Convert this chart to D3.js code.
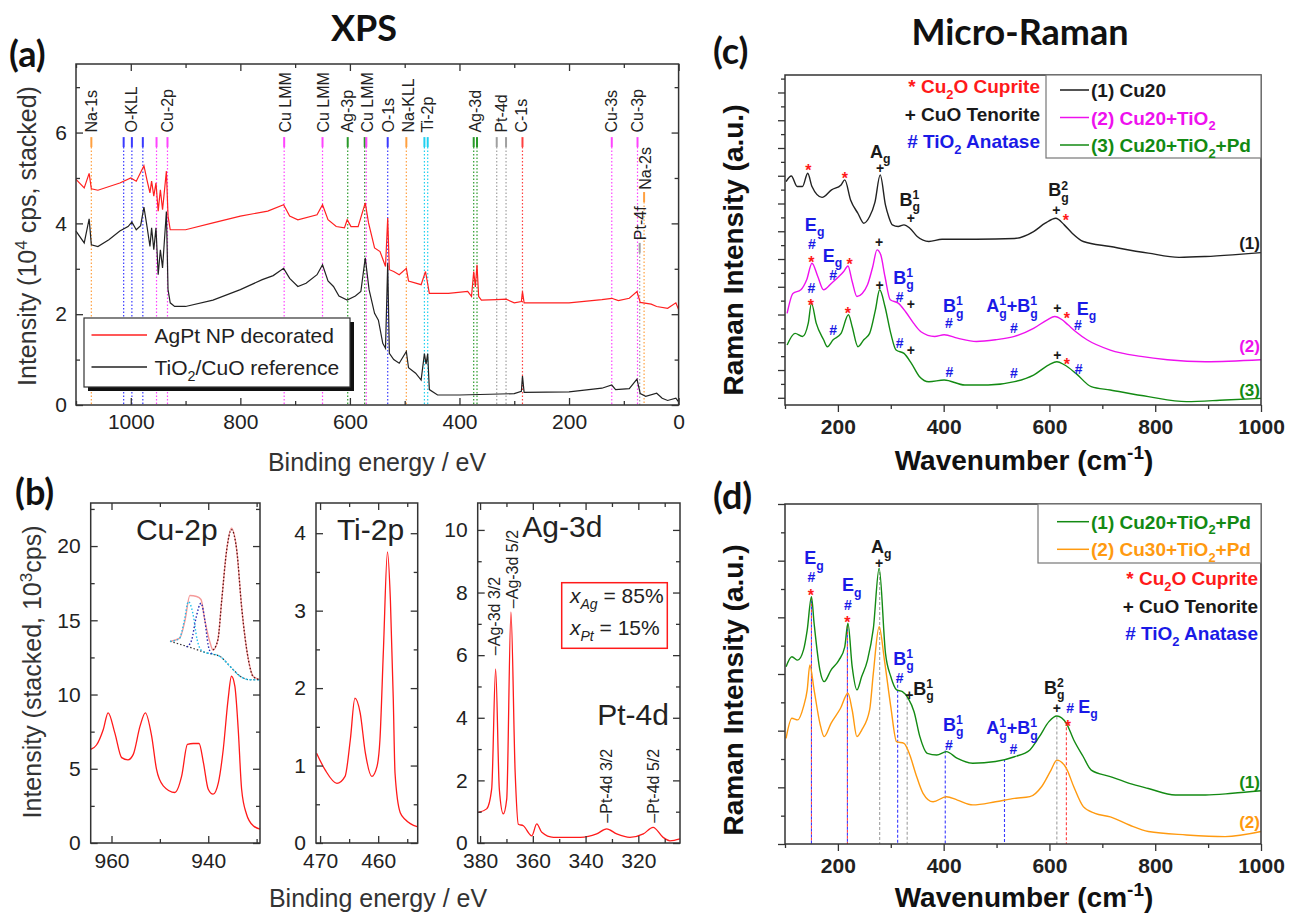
<!DOCTYPE html>
<html>
<head>
<meta charset="utf-8">
<script src="https://cdn.jsdelivr.net/npm/d3@7/dist/d3.min.js"></script>
<style>
  body { margin: 0; background: #fff; }
  text { font-family: "Liberation Sans", Arial, sans-serif; white-space: pre; }
</style>
</head>
<body>
<script>

// ---------- (a) XPS survey: [binding energy eV, intensity 10^4 cps] ----------
var xpsAgPt = [[1100,4.97],[1085,4.78],[1076,5.1],[1072,4.76],[1060,4.73],[1020,4.89],[1000,5.0],[990,4.93],[976,5.27],
  [970,4.93],[965,4.67],[962,4.93],[958,4.6],[954,4.89],[950,4.27],[946,4.74],[942,4.3],[935,5.15],[932,4.16],[928,3.86],
  [900,3.86],[850,4.01],[800,4.16],[750,4.27],[721,4.41],[710,4.16],[695,4.08],[660,4.19],[650,4.41],[640,4.08],[625,3.93],
  [610,3.9],[605,4.08],[598,3.93],[585,3.93],[572,4.45],[566,4.01],[555,3.46],[545,3.38],[535,3.05],[531,4.12],[528,2.98],
  [520,2.94],[510,2.87],[497,3.01],[493,2.73],[470,2.65],[462,2.94],[455,2.46],[420,2.46],[385,2.5],[378,2.39],[374,2.94],
  [371,2.6],[368,3.09],[365,2.39],[360,2.31],[332,2.32],[315,2.33],[300,2.25],[287,2.28],[285,2.5],[282,2.25],[200,2.25],
  [140,2.32],[122,2.35],[110,2.3],[90,2.35],[76,2.5],[70,2.26],[50,2.22],[40,2.17],[20,2.13],[5,2.25],[0,2.1]];
var xpsRef = [[1100,3.83],[1085,3.57],[1076,4.1],[1072,3.53],[1060,3.49],[1040,3.64],[1020,3.83],[1005,3.93],[998,4.03],
  [990,3.86],[982,3.95],[976,4.36],[970,3.9],[965,3.49],[962,3.9],[958,3.42],[954,3.9],[950,2.87],[946,3.42],[942,3.02],
  [935,4.26],[932,2.54],[928,2.25],[920,2.17],[900,2.17],[850,2.31],[800,2.54],[760,2.76],[740,2.85],[721,3.01],[710,2.79],
  [695,2.61],[680,2.68],[660,2.87],[650,3.09],[640,2.73],[630,2.61],[620,2.4],[605,2.31],[590,2.4],[580,2.5],[572,3.24],
  [565,2.54],[555,2.02],[548,1.87],[540,1.36],[535,1.25],[531,3.12],[528,1.14],[520,1.0],[510,0.92],[497,1.18],[493,0.82],
  [480,0.7],[470,0.55],[464,1.13],[461,0.9],[458,1.13],[455,0.34],[440,0.22],[400,0.22],[300,0.25],[287,0.3],[285,0.64],
  [282,0.28],[200,0.29],[140,0.37],[122,0.44],[115,0.34],[90,0.36],[76,0.57],[70,0.25],[60,0.19],[40,0.26],[30,0.15],
  [20,0.1],[5,0.15],[0,0.07]];
// reference lines: [eV, colour, top of line]
var xpsLines = [[1072,"o",5.9],[1013,"b",5.9],[998,"b",5.9],[978,"b",5.9],[953,"m",5.9],[933,"m",5.9],[720,"m",5.9],
  [650,"m",5.9],[604,"g",5.9],[573,"g",5.9],[570,"m",5.9],[531,"b",5.9],[497,"o",5.9],[464,"c",5.9],[458,"c",5.9],
  [374,"g",5.9],[368,"g",5.9],[332,"k",5.9],[315,"k",5.9],[285,"r",5.9],[122,"m",5.9],[75,"m",5.9],[71,"k",3.57],[63,"o",4.69]];
// peak labels: [text, eV, start]
var xpsLabels = [["Na-1s",1072,6.0],["O-KLL",998,6.0],["Cu-2p",933,6.0],["Cu LMM",718,6.0],["Cu LMM",648,6.0],
  ["Ag-3p",604,6.0],["Cu LMM",569,6.0],["O-1s",530,6.0],["Na-KLL",494,6.0],["Ti-2p",458,6.0],["Ag-3d",371,6.0],
  ["Pt-4d",323,6.0],["C-1s",287,6.0],["Cu-3s",122,6.0],["Cu-3p",75,6.0],["Pt-4f",69,3.63],["Na-2s",61,4.74]];
var xpsXTicks = [1000,800,600,400,200,0], xpsXMinor = [1100,900,700,500,300,100];
var xpsYTicks = [0,2,4,6], xpsYMinor = [1,3,5,7];

// ---------- (b) high resolution windows ----------
var cu2p = [[964.3,6.3],[963.1,6.6],[961.7,7.65],[960.7,8.77],[959.3,7.4],[957.9,5.75],[956.6,5.6],[955.5,5.97],[954.1,7.87],
  [953,8.77],[951.7,7.2],[950.7,4.97],[949.3,3.85],[946.9,3.4],[945.5,4.5],[944.3,6.64],[943.1,6.7],[941.9,6.7],[941,5.42],
  [940,3.62],[939,3.29],[937.9,4.07],[936.9,6.3],[935.9,9.66],[935.2,11.23],[934.5,10.56],[933.8,7.65],[933.1,3.62],
  [932.1,1.95],[930.7,1.16],[929.3,0.94]];
var cu2pEnvelope = [[947.9,13.58],[945.9,13.8],[944.8,15.0],[943.8,16.67],[942.4,16.6],[941.5,16.4],[940.7,15.0],[939.6,13.47],
  [939,13.0],[938,13.7],[937.2,16.4],[936.2,19.7],[935.2,21.2],[934.1,19.7],[933.1,15.9],[931.7,12.35],[930.7,11.23],[929.3,11.0]];
var cu2pBackground = [[947.9,13.58],[944,13.2],[940.3,12.8],[937.6,12.57],[935.5,11.9],[933.4,11.23],[931.5,11.0],[929.3,11.0]];
var cu2pSat1 = [[947.9,13.58],[946,13.75],[945,14.9],[944.1,16.26],[943.2,15.5],[942.3,13.7],[941.5,13.0],[940.3,12.8]];
var cu2pSat2 = [[944.5,13.2],[943.5,13.6],[942.5,15.2],[941.5,16.15],[940.7,15.0],[940,13.3],[939.3,12.75]];
var cu2pMain = [[939,13.0],[938,13.7],[937.2,16.4],[936.2,19.7],[935.2,21.1],[934.1,19.7],[933.1,15.9],[931.7,12.35],[930.7,11.2],[929.3,11.0]];
var ti2p = [[470.6,1.16],[469.1,0.94],[467.1,0.77],[465.7,0.86],[464.8,1.33],[464,1.87],[463.1,1.68],[462.2,1.16],[461.1,0.86],
  [460.2,0.99],[459.7,1.33],[459.1,2.49],[458.4,3.76],[457.9,3.14],[457.4,1.85],[457.1,0.9],[456.2,0.39],[455.3,0.3],[453.3,0.21]];
var ag3d = [[380.6,0.98],[377.5,1.09],[375.6,1.73],[374.1,5.56],[372.7,1.72],[371.2,0.93],[369.9,1.4],[368.3,7.37],[366.7,2.26],
  [365.5,0.6],[363.6,0.55],[360.4,0.23],[358.5,0.61],[356.6,0.34],[352.2,0.18],[342,0.18],[335.8,0.29],[332,0.45],[328.2,0.29],
  [323.2,0.18],[318.1,0.29],[314.4,0.5],[310.6,0.18],[308,0.07],[304.2,0.13]];
var agLabels = [["\u2013Ag-3d 3/2",374.6,6.0],["\u2013Ag-3d 5/2",367.9,7.5],["\u2013Pt-4d 3/2",332,0.65],["\u2013Pt-4d 5/2",314.4,0.65]];

// ---------- (c) Raman: [wavenumber, intensity a.u.] ----------
var ramanCu20 = [[102,8.05],[112,8.25],[123,7.87],[133,7.87],[143,8.35],[151,7.87],[170,7.48],[188,7.75],[206,7.93],[213,8.11],
  [224,7.39],[238,6.9],[249,6.55],[260,6.79],[270,7.3],[280,8.29],[290,7.2],[296,6.79],[303,6.49],[314,6.43],[325,6.49],
  [336,6.37],[350,6.07],[372,5.89],[397,5.97],[462,5.97],[534,6.0],[570,6.25],[592,6.55],[612,6.73],[628,6.49],[643,6.19],
  [664,5.89],[715,5.71],[787,5.47],[845,5.32],[895,5.35],[946,5.41],[1000,5.49]];
var ramanCu20Ti = [[104,3.3],[115,4.02],[130,4.15],[141,4.51],[151,5.11],[162,4.63],[173,4.15],[188,4.39],[202,4.63],[211,4.81],
  [219,5.01],[227,4.45],[236,3.91],[246,4.02],[256,4.33],[266,4.99],[274,5.59],[281,5.41],[289,4.63],[299,3.79],[314,3.67],
  [328,3.36],[343,2.95],[357,2.64],[383,2.47],[401,2.53],[426,2.41],[462,2.29],[498,2.35],[534,2.47],[570,2.76],[596,3.07],
  [610,3.19],[624,3.07],[635,2.89],[650,2.64],[671,2.35],[715,1.98],[773,1.75],[823,1.63],[895,1.56],[1000,1.63]];
var ramanCu20TiPd = [[104,2.16],[119,2.58],[133,2.47],[144,2.95],[150,3.67],[159,2.95],[173,2.35],[180,2.1],[191,2.35],[206,2.58],
  [220,3.25],[227,2.82],[238,2.1],[249,2.35],[260,2.58],[271,3.43],[279,4.15],[289,3.55],[300,2.58],[310,1.98],[325,1.86],
  [339,1.5],[354,1.03],[372,0.84],[401,0.9],[440,0.72],[484,0.72],[534,0.84],[570,1.08],[599,1.45],[614,1.56],[628,1.45],
  [650,1.14],[679,0.66],[715,0.54],[787,0.3],[859,0.12],[932,0.18],[1000,0.24]];
// symbols over peaks: [wavenumber, height, text, colour]
var cMarks = [[144,8.59,"*","r"],[213,8.32,"*","r"],[280,8.53,"+","k"],[280,9.15,"A_{g}","k"],[338,6.73,"+","k"],
  [336,7.42,"B^{1}_{g}","k"],[613,7.03,"+","k"],[631,6.81,"*","r"],[617,7.75,"B^{2}_{g}","k"],
  [156,6.5,"E_{g}","b"],[151,5.8,"#","b"],[150,5.3,"*","r"],[190,5.4,"E_{g}","b"],[191,4.69,"#","b"],[222,5.2,"*","r"],
  [278,5.89,"+","k"],[324,4.6,"B^{1}_{g}","b"],[317,3.91,"#","b"],[338,3.63,"+","k"],[418,3.58,"B^{1}_{g}","b"],[410,2.95,"#","b"],
  [529,3.58,"A^{1}_{g}+B^{1}_{g}","b"],[533,2.77,"#","b"],[615,3.49,"+","k"],[633,3.25,"*","r"],[670,3.49,"E_{g}","b"],[654,2.89,"#","b"],
  [150,4.2,"#","b"],[149,3.72,"*","r"],[219,3.43,"*","r"],[191,2.71,"#","b"],[279,4.33,"+","k"],[317,2.23,"#","b"],[338,1.99,"+","k"],
  [411,1.18,"#","b"],[533,1.15,"#","b"],[615,1.81,"+","k"],[633,1.6,"*","r"],[655,1.29,"#","b"]];
var cTags = [[998,5.83,"(1)","k"],[998,2.11,"(2)","m"],[998,0.55,"(3)","g"]];
var cLegend = [["(1) Cu20","k"],["(2) Cu20+TiO_{2}","m"],["(3) Cu20+TiO_{2}+Pd","g"]];
var phaseKey = [["* Cu_{2}O Cuprite","r"],["+ CuO Tenorite","k"],["# TiO_{2} Anatase","b"]];
var ramanXTicks = [200,400,600,800,1000], ramanXMinor = [100,300,500,700,900];

// ---------- (d) Raman ----------
var ramanD1 = [[102,6.26],[113,6.61],[124,6.49],[135,6.85],[142,7.55],[150,8.73],[155,7.79],[166,6.14],[174,5.73],[187,6.14],
  [202,6.49],[213,6.96],[219,7.79],[227,6.26],[236,5.44],[245,5.91],[256,6.49],[267,7.6],[278,9.73],[290,6.73],[300,5.91],
  [311,5.44],[322,5.38],[333,5.14],[344,4.67],[355,3.79],[369,3.2],[387,3.14],[405,3.26],[426,3.02],[455,2.85],[498,2.91],
  [534,3.08],[563,3.32],[581,3.79],[599,4.32],[614,4.52],[632,4.26],[646,3.67],[664,3.08],[679,2.61],[715,2.38],[751,2.14],
  [787,1.96],[838,1.73],[895,1.73],[946,1.79],[1000,1.88]];
var ramanD2 = [[102,3.73],[113,4.44],[124,4.38],[135,4.85],[142,5.44],[147,6.32],[155,5.44],[166,4.26],[174,3.79],[187,4.26],
  [205,4.79],[219,5.32],[227,4.73],[236,3.79],[245,4.02],[260,4.73],[267,6.02],[278,7.67],[288,6.49],[300,4.85],[311,3.61],
  [325,3.55],[336,3.14],[347,2.49],[361,1.79],[380,1.49],[405,1.67],[426,1.55],[455,1.38],[498,1.49],[534,1.61],[563,1.67],
  [585,2.02],[603,2.61],[614,2.96],[632,2.67],[646,2.02],[664,1.32],[686,1.08],[715,0.96],[751,0.67],[787,0.44],[859,0.32],
  [932,0.26],[1000,0.44]];
var dMarks = [[155,10.1,"E_{g}","b"],[150,9.42,"#","b"],[149,8.9,"*","r"],[226,9.15,"E_{g}","b"],[219,8.45,"#","b"],[218,7.95,"*","r"],
  [282,10.5,"A_{g}","k"],[278,9.91,"+","k"],[324,6.55,"B^{1}_{g}","b"],[317,5.85,"#","b"],[335,5.26,"+","k"],[362,5.49,"B^{1}_{g}","k"],
  [418,4.22,"B^{1}_{g}","b"],[410,3.49,"#","b"],[529,4.1,"A^{1}_{g}+B^{1}_{g}","b"],[532,3.34,"#","b"],
  [609,5.52,"B^{2}_{g}","k"],[614,4.79,"+","k"],[639,4.79,"#","b"],[673,4.85,"E_{g}","b"],[635,4.3,"*","r"]];
var dLines = [[150,8.7,"rb"],[218,7.7,"rb"],[279,9.6,"k"],[313,5.8,"b"],[331,5.2,"k"],[403,3.3,"b"],[515,3.0,"b"],[614,4.5,"k"],[632,4.3,"r"]];
var dTags = [[998,2.2,"(1)","g"],[998,0.79,"(2)","o"]];
var dLegend = [["(1) Cu20+TiO_{2}+Pd","g"],["(2) Cu30+TiO_{2}+Pd","o"]];

var col = { r: "#ff1a1a", k: "#1a1a1a", b: "#1a1ae6", m: "#ee11ee", g: "#138a13", o: "#ff9a10", c: "#10c8f0" };
var lineCol = { r: "#ff4040", k: "#a0a0a0", b: "#3a3aff", m: "#ff44ff", g: "#2a9a2a", o: "#ffa040", c: "#20d0f0" };

var svg = d3.select("body").append("svg").attr("width", 1289).attr("height", 913);
var titleFont = "Lato, 'Open Sans', sans-serif";

// ---------- helpers ----------
function parseRich(s) {
  var re = /\^\{([^}]*)\}_\{([^}]*)\}|\^\{([^}]*)\}|_\{([^}]*)\}|[^\^_]+/g, m, out = [];
  while ((m = re.exec(s)) !== null) {
    if (m[1] !== undefined) out.push({ sup: m[1], sub: m[2] });
    else if (m[3] !== undefined) out.push({ sup: m[3] });
    else if (m[4] !== undefined) out.push({ sub: m[4] });
    else out.push({ t: m[0] });
  }
  return out;
}

// text with sub/superscripts, x/y = anchor point on baseline
function rich(str, o) {
  var g = svg.append("g");
  var t = g.append("text")
    .style("font-size", o.size + "px")
    .style("font-weight", o.bold ? "bold" : "normal")
    .attr("fill", o.color || "#222");
  var cur = 0, small = o.size * 0.68;
  parseRich(str).forEach(function(p) {
    if (p.t !== undefined) {
      var s = t.append("tspan").attr("x", cur).attr("y", 0).text(p.t);
      cur += s.node().getComputedTextLength();
    } else {
      var w = 0;
      if (p.sup !== undefined) {
        var a = t.append("tspan").attr("x", cur).attr("y", -o.size * 0.38).style("font-size", small + "px").text(p.sup);
        w = a.node().getComputedTextLength();
      }
      if (p.sub !== undefined) {
        var b = t.append("tspan").attr("x", cur).attr("y", o.size * 0.3).style("font-size", small + "px").text(p.sub);
        w = Math.max(w, b.node().getComputedTextLength());
      }
      cur += w;
    }
  });
  var shift = o.anchor === "middle" ? -cur / 2 : (o.anchor === "end" ? -cur : 0);
  g.attr("transform", "translate(" + o.x + "," + o.y + ")" + (o.rotate ? " rotate(" + o.rotate + ")" : ""));
  t.attr("transform", "translate(" + shift + ",0)");
  return g;
}

function axes(x, y, o) {
  var x0 = x.range()[0], x1 = x.range()[1], y0 = y.range()[0], y1 = y.range()[1];
  var dir = o.inward ? -1 : 1;
  function ax(gen, tv, size, tr, labels) {
    var a = svg.append("g").attr("transform", tr)
      .call(gen.tickValues(tv).tickSize(size).tickPadding(o.pad)
        .tickFormat(labels ? d3.format("d") : ""));
    a.select(".domain").remove();
    a.attr("font-size", o.fs).attr("font-family", "'Liberation Sans', Arial, sans-serif")
      .attr("font-weight", o.bold ? "bold" : null).attr("color", "#222");
    a.selectAll("line").attr("stroke-width", 1.3).attr("stroke", "#333");
  }
  ax(d3.axisBottom(x), o.xMaj, dir * 7, "translate(0," + y0 + ")", true);
  ax(d3.axisBottom(x), o.xMin, dir * 4, "translate(0," + y0 + ")", false);
  ax(d3.axisLeft(y), o.yMaj, dir * 7, "translate(" + x0 + ",0)", o.yLabels);
  ax(d3.axisLeft(y), o.yMin, dir * 4, "translate(" + x0 + ",0)", false);
  if (o.mirror) {
    ax(d3.axisTop(x), o.xMaj, -7, "translate(0," + y1 + ")", false);
    ax(d3.axisTop(x), o.xMin, -4, "translate(0," + y1 + ")", false);
    ax(d3.axisRight(y), o.yMaj, -7, "translate(" + x1 + ",0)", false);
    ax(d3.axisRight(y), o.yMin, -4, "translate(" + x1 + ",0)", false);
  }
  svg.append("rect").attr("x", x0).attr("y", y1).attr("width", x1 - x0).attr("height", y0 - y1)
    .attr("fill", "none").attr("stroke", "#333").attr("stroke-width", 1.5);
}

function curve(data, x, y, color, width, dash, smooth) {
  var line = d3.line().x(function(d) { return x(d[0]); }).y(function(d) { return y(d[1]); })
    .curve(smooth ? d3.curveMonotoneX : d3.curveLinear);
  return svg.append("path").datum(data).attr("d", line).attr("fill", "none")
    .attr("stroke", color).attr("stroke-width", width || 1.3).attr("stroke-dasharray", dash || null);
}

function bigText(str, x, y, size, anchor) {
  svg.append("text").attr("x", x).attr("y", y).attr("text-anchor", anchor || "start")
    .style("font-family", titleFont).style("font-weight", "bold").style("font-size", size + "px")
    .attr("fill", "#111").text(str);
}

function mark(m, x, y, size) {
  var sym = m[2].length === 1;
  var fs = sym ? (m[2] === "*" ? 16 : 14) : size;
  var off = m[2] === "*" ? fs * 0.6 : fs * 0.36;
  rich(m[2], { x: x(m[0]), y: y(m[1]) + off, size: fs, bold: true, color: col[m[3]], anchor: "middle" });
}

// ---------- titles ----------
bigText("XPS", 364, 41, 36, "middle");
bigText("Micro-Raman", 1020, 45, 36, "middle");
bigText("(a)", 9, 67, 36);
bigText("(b)", 15, 505, 36);
bigText("(c)", 713, 64, 36);
bigText("(d)", 713, 509, 36);

// ---------- panel (a) ----------
var ax = d3.scaleLinear().domain([1100, 0]).range([76, 678.6]);
var ay = d3.scaleLinear().domain([0, 7.51]).range([405, 64]);

xpsLines.forEach(function(l) {
  var c = lineCol[l[1]];
  svg.append("line").attr("x1", ax(l[0])).attr("x2", ax(l[0])).attr("y1", ay(l[2])).attr("y2", ay(l[2] - 0.22))
    .attr("stroke", c).attr("stroke-width", 2);
  svg.append("line").attr("x1", ax(l[0])).attr("x2", ax(l[0])).attr("y1", ay(l[2] - 0.22)).attr("y2", ay(0))
    .attr("stroke", c).attr("stroke-width", 1.2).attr("stroke-dasharray", "1.5,2");
});
xpsLabels.forEach(function(l) {
  svg.append("text").attr("transform", "translate(" + ax(l[1]) + "," + ay(l[2]) + ") rotate(-90)")
    .attr("dy", "0.35em").style("font-size", "16px").attr("fill", "#222").text(l[0]);
});

curve(xpsRef, ax, ay, "#222", 1.2);
curve(xpsAgPt, ax, ay, "#ff2020", 1.2);
axes(ax, ay, { xMaj: xpsXTicks, xMin: xpsXMinor, yMaj: xpsYTicks, yMin: xpsYMinor, inward: true, mirror: true, pad: 9, fs: 21, yLabels: true });

// legend (a)
svg.append("rect").attr("x", 88).attr("y", 322).attr("width", 266).attr("height", 69).attr("fill", "#111");
svg.append("rect").attr("x", 84).attr("y", 318).attr("width", 266).attr("height", 69).attr("fill", "#fff").attr("stroke", "#333").attr("stroke-width", 1.2);
[["AgPt NP decorated", "#ff2020", 335], ["TiO_{2}/CuO reference", "#222", 367]].forEach(function(e) {
  svg.append("line").attr("x1", 91.5).attr("x2", 147).attr("y1", e[2]).attr("y2", e[2]).attr("stroke", e[1]).attr("stroke-width", 1.5);
  rich(e[0], { x: 154.5, y: e[2] + 7.5, size: 21, color: "#222" });
});

rich("Intensity (10^{4} cps, stacked)", { x: 36, y: 236, size: 25, rotate: -90, anchor: "middle", color: "#333" });
rich("Binding energy / eV", { x: 377, y: 471, size: 25, anchor: "middle", color: "#333" });

// ---------- panel (b) ----------
var cuX = d3.scaleLinear().domain([964.3, 929.3]).range([90.7, 260]);
var cuY = d3.scaleLinear().domain([0, 22.9]).range([843, 503]);
var tiX = d3.scaleLinear().domain([470.7, 453.2]).range([316, 417.7]);
var tiY = d3.scaleLinear().domain([0, 4.39]).range([843, 503]);
var agX = d3.scaleLinear().domain([380.9, 304.2]).range([477.7, 680]);
var agY = d3.scaleLinear().domain([0, 10.86]).range([843, 503]);

curve(cu2pEnvelope, cuX, cuY, "#f59a9a", 1.4, null, true);
curve(cu2pBackground, cuX, cuY, "#333", 1.2, "1.5,2", true);
curve(cu2pBackground.slice(2), cuX, cuY, "#22c0ee", 1.4, "2,2", true);
curve(cu2pSat1, cuX, cuY, "#22c0ee", 1.4, "1.5,2", true);
curve(cu2pSat2, cuX, cuY, "#2525b0", 1.4, "1.5,2", true);
curve(cu2pMain, cuX, cuY, "#5a1010", 1.3, "1.5,2", true);
curve(cu2p, cuX, cuY, "#ff1a1a", 1.3, null, true);
curve(ti2p, tiX, tiY, "#ff1a1a", 1.3, null, true);
curve(ag3d, agX, agY, "#ff1a1a", 1.3, null, true);

axes(cuX, cuY, { xMaj: [960, 940], xMin: [950, 930], yMaj: [0, 5, 10, 15, 20], yMin: [2.5, 7.5, 12.5, 17.5, 22.5], inward: true, mirror: true, pad: 10, fs: 21, yLabels: true });
axes(tiX, tiY, { xMaj: [470, 460], xMin: [465, 455], yMaj: [0, 1, 2, 3, 4], yMin: [0.5, 1.5, 2.5, 3.5], inward: true, mirror: true, pad: 10, fs: 21, yLabels: true });
axes(agX, agY, { xMaj: [380, 360, 340, 320], xMin: [370, 350, 330, 310], yMaj: [0, 2, 4, 6, 8, 10], yMin: [1, 3, 5, 7, 9], inward: true, mirror: true, pad: 10, fs: 21, yLabels: true });

svg.append("text").attr("x", cuX(946.5)).attr("y", cuY(20.4)).attr("text-anchor", "middle").style("font-size", "30px").attr("fill", "#222").text("Cu-2p");
svg.append("text").attr("x", tiX(467.1)).attr("y", tiY(3.91)).style("font-size", "30px").attr("fill", "#222").text("Ti-2p");
svg.append("text").attr("x", agX(364)).attr("y", agY(9.78)).style("font-size", "30px").attr("fill", "#222").text("Ag-3d");
svg.append("text").attr("x", agX(335.6)).attr("y", agY(3.77)).style("font-size", "30px").attr("fill", "#222").text("Pt-4d");
agLabels.forEach(function(l) {
  svg.append("text").attr("transform", "translate(" + agX(l[1]) + "," + agY(l[2]) + ") rotate(-90)")
    .attr("dy", "0.35em").style("font-size", "16px").attr("fill", "#222").text(l[0]);
});
svg.append("rect").attr("x", 561.7).attr("y", 582.7).attr("width", 105.6).attr("height", 65.6)
  .attr("fill", "#fff").attr("stroke", "#ff1a1a").attr("stroke-width", 1.5);
[["Ag", "85%", 603], ["Pt", "15%", 635]].forEach(function(r) {
  var t = svg.append("text").attr("x", 570).attr("y", r[2]).style("font-size", "21px").attr("fill", "#222");
  t.append("tspan").style("font-style", "italic").text("x");
  t.append("tspan").style("font-style", "italic").style("font-size", "14px").attr("dy", 6).text(r[0]);
  t.append("tspan").attr("dy", -6).text(" = " + r[1]);
});

rich("Intensity (stacked, 10^{3}cps)", { x: 41, y: 672, size: 25, rotate: -90, anchor: "middle", color: "#333" });
rich("Binding energy / eV", { x: 378, y: 907, size: 25, anchor: "middle", color: "#333" });

// ---------- panel (c) ----------
var cx = d3.scaleLinear().domain([100, 1000]).range([785, 1261]);
var cy = d3.scaleLinear().domain([0, 11.89]).range([405, 75]);
curve(ramanCu20, cx, cy, "#222", 1.4, null, true);
curve(ramanCu20Ti, cx, cy, "#ee11ee", 1.4, null, true);
curve(ramanCu20TiPd, cx, cy, "#138a13", 1.4, null, true);
axes(cx, cy, { xMaj: ramanXTicks, xMin: ramanXMinor, yMaj: d3.range(0.26, 11.8, 1), yMin: d3.range(0.76, 11.8, 1), inward: false, pad: 7, fs: 21, bold: true, yLabels: false });
cMarks.forEach(function(m) { mark(m, cx, cy, 18); });
cTags.forEach(function(m) {
  rich(m[2], { x: cx(m[0]), y: cy(m[1]) + 6, size: 17, bold: true, color: col[m[3]], anchor: "end" });
});
svg.append("rect").attr("x", 1046).attr("y", 75).attr("width", 215).attr("height", 83).attr("fill", "#fff").attr("stroke", "#777").attr("stroke-width", 1.2);
cLegend.forEach(function(e, i) {
  var yy = 90 + i * 27.5;
  svg.append("line").attr("x1", 1060).attr("x2", 1089).attr("y1", yy).attr("y2", yy).attr("stroke", col[e[1]]).attr("stroke-width", 1.5);
  rich(e[0], { x: 1091, y: yy + 7, size: 19, bold: true, color: col[e[1]] });
});
phaseKey.forEach(function(e, i) {
  rich(e[0], { x: 1040, y: 93 + i * 27.5, size: 19, bold: true, color: col[e[1]], anchor: "end" });
});
rich("Raman Intensity (a.u.)", { x: 743, y: 250, size: 28, bold: true, rotate: -90, anchor: "middle", color: "#111" });
rich("Wavenumber (cm^{-1})", { x: 1024, y: 470, size: 28, bold: true, anchor: "middle", color: "#111" });

// ---------- panel (d) ----------
var dx = d3.scaleLinear().domain([100, 1000]).range([785, 1261]);
var dy = d3.scaleLinear().domain([0, 12]).range([844, 504]);
dLines.forEach(function(l) {
  l[2].split("").forEach(function(c, i) {
    svg.append("line").attr("x1", dx(l[0])).attr("x2", dx(l[0])).attr("y1", dy(l[1])).attr("y2", dy(0))
      .attr("stroke", lineCol[c]).attr("stroke-width", 1.1).attr("stroke-dasharray", l[2].length > 1 ? "3,3" : "3,2")
      .attr("stroke-dashoffset", i * 3);
  });
});
curve(ramanD2, dx, dy, "#ff9a10", 1.4, null, true);
curve(ramanD1, dx, dy, "#138a13", 1.4, null, true);
axes(dx, dy, { xMaj: ramanXTicks, xMin: ramanXMinor, yMaj: d3.range(0, 12.1, 2), yMin: d3.range(1, 12, 2), inward: false, pad: 7, fs: 21, bold: true, yLabels: false });
dMarks.forEach(function(m) { mark(m, dx, dy, 18); });
dTags.forEach(function(m) {
  rich(m[2], { x: dx(m[0]), y: dy(m[1]) + 6, size: 17, bold: true, color: col[m[3]], anchor: "end" });
});
svg.append("rect").attr("x", 1038).attr("y", 504).attr("width", 223).attr("height", 59).attr("fill", "#fff").attr("stroke", "#777").attr("stroke-width", 1.2);
dLegend.forEach(function(e, i) {
  var yy = 521.7 + i * 27.6;
  svg.append("line").attr("x1", 1057).attr("x2", 1089).attr("y1", yy).attr("y2", yy).attr("stroke", col[e[1]]).attr("stroke-width", 1.5);
  rich(e[0], { x: 1091, y: yy + 7, size: 19, bold: true, color: col[e[1]] });
});
phaseKey.forEach(function(e, i) {
  rich(e[0], { x: 1258, y: 585 + i * 27.5, size: 19, bold: true, color: col[e[1]], anchor: "end" });
});
rich("Raman Intensity (a.u.)", { x: 743, y: 690, size: 28, bold: true, rotate: -90, anchor: "middle", color: "#111" });
rich("Wavenumber (cm^{-1})", { x: 1024, y: 907, size: 28, bold: true, anchor: "middle", color: "#111" });

</script>
</body>
</html>
